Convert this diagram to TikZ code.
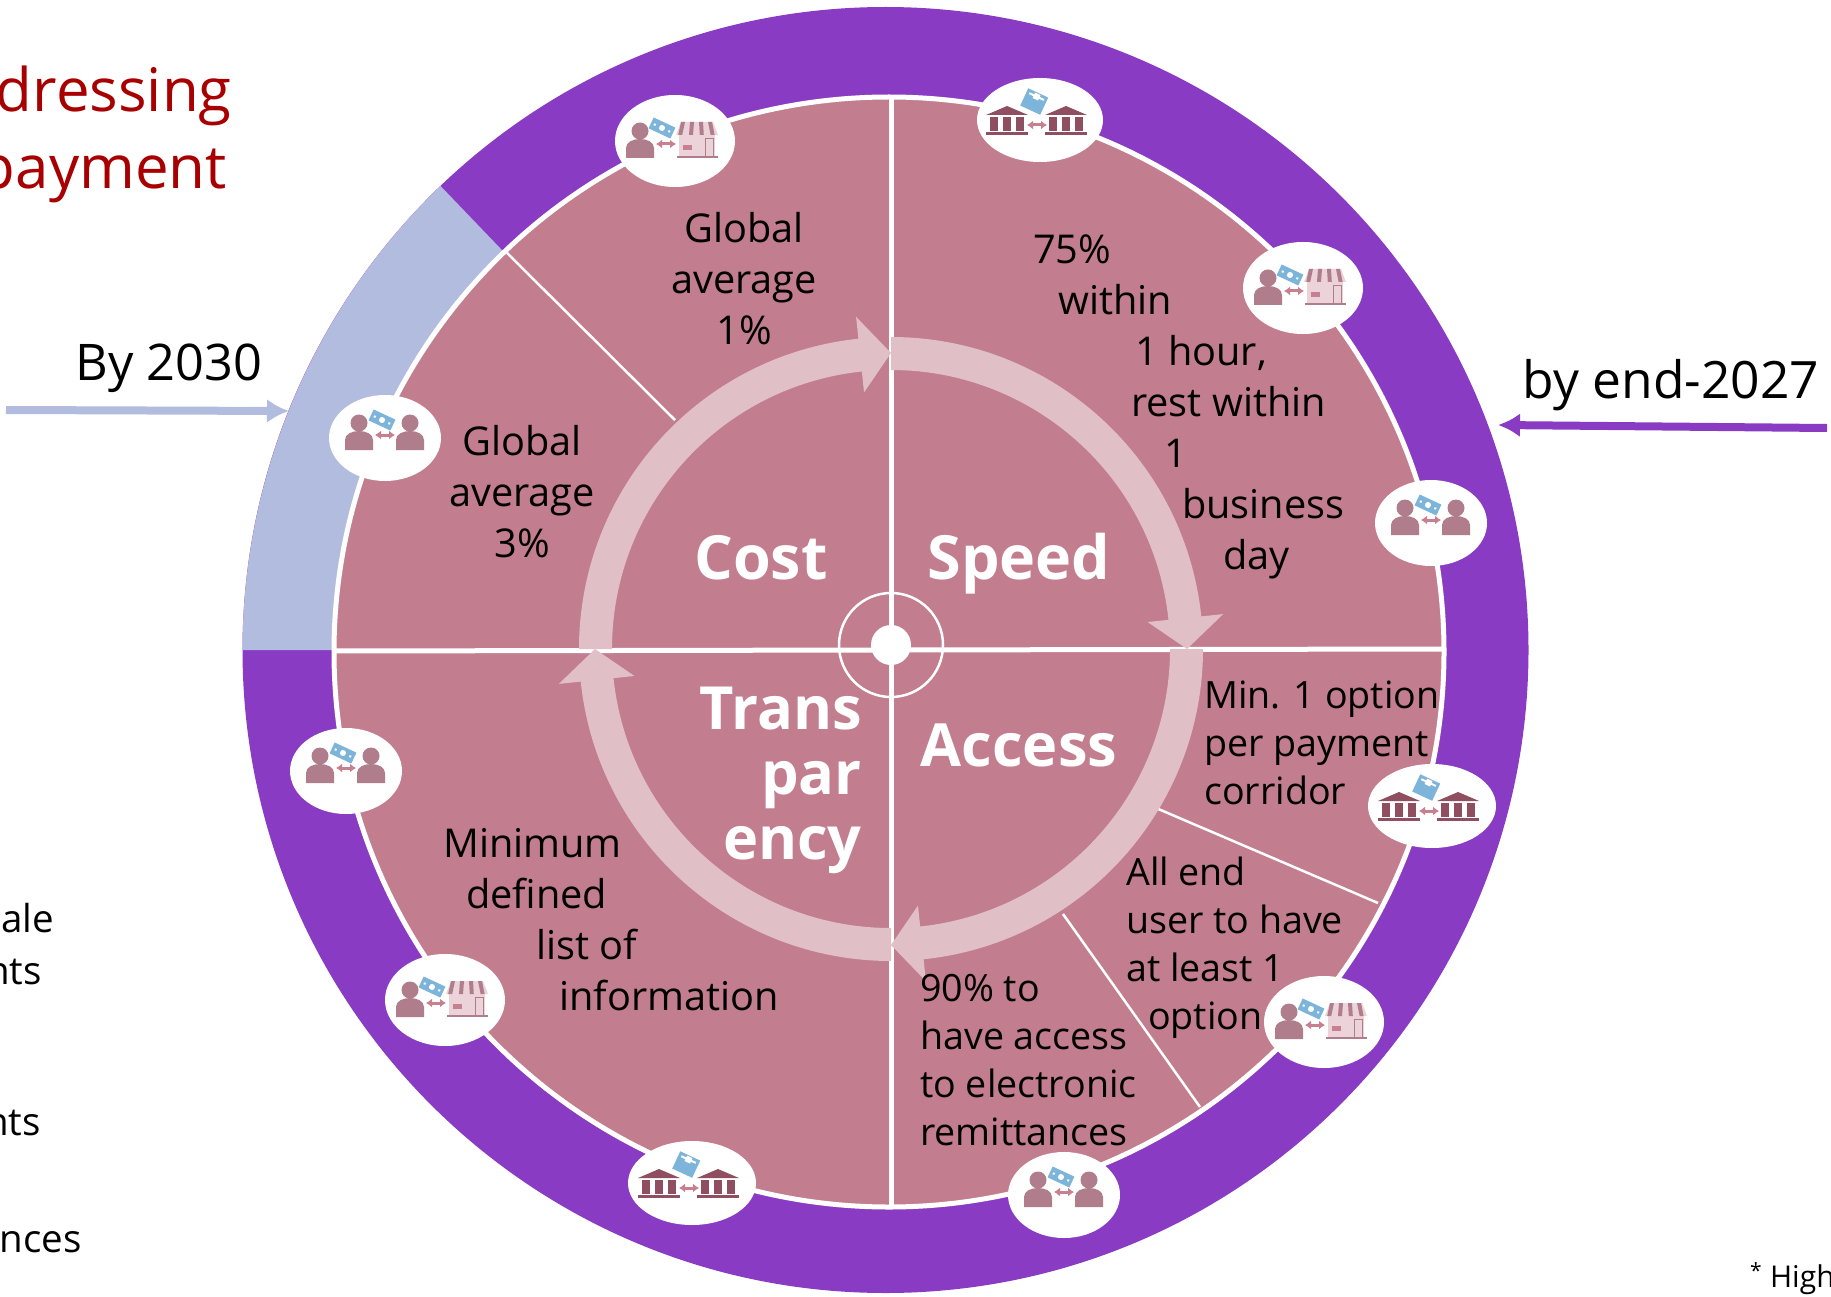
\documentclass[tikz,border=0pt]{standalone}
\usepackage{fontspec}
\setmainfont{Open Sans}
\usetikzlibrary{arrows.meta,shapes.geometric}
\definecolor{ringpurple}{HTML}{893BC3}
\definecolor{ringblue}{HTML}{B2BCDE}
\definecolor{piepink}{HTML}{C27D8E}
\definecolor{arrowpink}{HTML}{E0BFC6}
\definecolor{titlered}{HTML}{A80000}
\definecolor{iconperson}{HTML}{B07D8C}
\definecolor{iconbank}{HTML}{8F4F60}
\definecolor{iconarrow}{HTML}{C87F90}
\definecolor{iconmoney}{HTML}{7DB4DA}
\definecolor{iconshop}{HTML}{EBD3D9}
\newcommand{\arrowseg}[2]{%
  \fill[arrowpink] (#1:312) arc (#1:#2-6:312) -- (#2-6:334) -- (#2:296) -- (#2-6:258) -- (#2-6:279) arc (#2-6:#1:279) -- cycle;}
\newcommand{\glyphPerson}[2]{\begin{scope}[shift={(#1,#2)}]
  \fill[iconperson] (0,-15) circle (8.5);
  \fill[iconperson] (-14,12) -- (-14,2) .. controls (-14,-10) and (14,-10) .. (14,2) -- (14,12) -- cycle;
\end{scope}}
\newcommand{\glyphMoney}[2]{\begin{scope}[shift={(#1,#2)},rotate=25]
  \fill[iconmoney] (-12,-6) rectangle (12,6);
  \fill[white] (0,0) circle (3);
  \fill[white] (-9,-1) rectangle (-7,1);
  \fill[white] (7,-1) rectangle (9,1);
\end{scope}}
\newcommand{\glyphStack}[2]{\begin{scope}[shift={(#1,#2)},rotate=25]
  \fill[iconmoney] (-11,-10) rectangle (11,9);
  \fill[white] (-8,-7) rectangle (8,-5);
  \fill[white] (-3,-9) rectangle (3,-3);
\end{scope}}
\newcommand{\glyphTwoway}[2]{\draw[iconarrow,line width=3pt,{Latex[length=6pt,width=9pt]}-{Latex[length=6pt,width=9pt]}] (#1-10,#2) -- (#1+10,#2);}
\newcommand{\glyphBank}[2]{\begin{scope}[shift={(#1,#2)}]
  \fill[iconbank] (-21,-5) -- (0,-14) -- (21,-5) -- cycle;
  \foreach \px in {-17,-4,9} \fill[iconbank] (\px,-3) rectangle +(8,14);
  \fill[iconbank] (-21,12) rectangle (21,15);
\end{scope}}
\newcommand{\glyphShop}[2]{\begin{scope}[shift={(#1,#2)}]
  \fill[iconshop] (-18,-6) rectangle (18,15);
  \fill[iconperson] (-20,15) rectangle (21,17);
  \fill[iconshop] (-16,-19) -- (16,-19) -- (21,-6) -- (-21,-6) -- cycle;
  \foreach \px in {-14,-5,4,13} \fill[iconperson] (\px-2,-19) -- (\px+2,-19) -- (\px*1.2+2,-6) -- (\px*1.2-2,-6) -- cycle;
  \fill[iconarrow] (-14,4) rectangle (-5,9);
  \draw[iconperson,line width=.8pt] (8,-3) rectangle (16,15);
\end{scope}}
\newcommand{\iconPersonPair}[2]{\begin{scope}[shift={(#1,#2)}]
  \glyphPerson{-26}{0}\glyphPerson{25}{0}\glyphMoney{-3}{-18}\glyphTwoway{0}{-3}
\end{scope}}
\newcommand{\iconBankPair}[2]{\begin{scope}[shift={(#1,#2)}]
  \glyphBank{-33}{0}\glyphBank{26}{0}\glyphStack{-6}{-18}\glyphTwoway{-3}{5}
\end{scope}}
\newcommand{\iconPersonShop}[2]{\begin{scope}[shift={(#1,#2)}]
  \glyphPerson{-35}{5}\glyphShop{22}{0}\glyphMoney{-13}{-13}\glyphTwoway{-9}{3}
\end{scope}}
\tikzset{
  body/.style={font=\fontsize{39.7}{51}\selectfont,text=black,inner sep=0pt,align=left},
  bodyc/.style={body,align=center},
  small/.style={body,font=\fontsize{37.6}{48}\selectfont},
  headword/.style={font=\fontsize{61}{65}\bfseries\selectfont,text=white,inner sep=0pt,align=right},
  headwordb/.style={font=\fontsize{59.5}{65}\bfseries\selectfont,text=white,inner sep=0pt,align=right},
  heading/.style={font=\fontsize{60}{77}\selectfont,text=titlered,inner sep=0pt},
  datelabel/.style={font=\fontsize{50.5}{60}\selectfont,text=black,inner sep=0pt},
  sidetext/.style={font=\fontsize{38.5}{48}\selectfont,text=black,inner sep=0pt,anchor=east},
  badge/.style={ellipse,fill=white,inner sep=0pt},
  seam/.style={draw=white,line width=2.5pt},
  axis/.style={draw=white,line width=5pt}
}
\begin{document}
\begin{tikzpicture}[x=1pt,y=1pt,yscale=-1]
\useasboundingbox (0,0) rectangle (1831,1297);
\clip (0,0) rectangle (1831,1297);
% outer ring
\fill[ringpurple] (885.5,650) circle (643);
\begin{scope}[shift={(885.5,650)}]
  \fill[ringblue] (180:643) arc (180:226.2:643) -- (226.2:540) arc (226.2:180:540) -- cycle;
\end{scope}
% pie
\fill[piepink,draw=white,line width=5pt] (889,652) circle (555);
\coordinate (pieW) at (334,651); \coordinate (pieE) at (1444,649);
\coordinate (pieN) at (891,99);  \coordinate (pieS) at (891,1208);
\draw[axis] (pieW) -- (pieE);
\draw[axis] (pieN) -- (pieS);
\coordinate (a1) at (505,251); \coordinate (a2) at (675,420);
\coordinate (b1) at (1156,808); \coordinate (b2) at (1378,903);
\coordinate (c1) at (1063,914); \coordinate (c2) at (1200,1107);
\draw[seam] (a1) -- (a2);
\draw[seam] (b1) -- (b2);
\draw[seam] (c1) -- (c2);
% circular arrows
\begin{scope}[shift={(891,649)}]
  \arrowseg{180}{270}
  \arrowseg{270}{360}
  \arrowseg{0}{90}
  \arrowseg{90}{180}
\end{scope}
% hub
\draw[white,line width=2.5pt] (891,645) circle (52);
\fill[white] (891,645) circle (20);
% badges
\node[badge,minimum width=120pt,minimum height=92pt] (b1s) at (675,141) {};
\iconPersonShop{675}{141}
\node[badge,minimum width=126pt,minimum height=84pt] (b2b) at (1040,120) {};
\iconBankPair{1040}{120}
\node[badge,minimum width=120pt,minimum height=92pt] (b3s) at (1303,288) {};
\iconPersonShop{1303}{288}
\node[badge,minimum width=112pt,minimum height=86pt] (b4p) at (1431,523) {};
\iconPersonPair{1431}{523}
\node[badge,minimum width=128pt,minimum height=84pt] (b5b) at (1432,806) {};
\iconBankPair{1432}{806}
\node[badge,minimum width=120pt,minimum height=92pt] (b6s) at (1324,1022) {};
\iconPersonShop{1324}{1022}
\node[badge,minimum width=112pt,minimum height=86pt] (b7p) at (1064,1195) {};
\iconPersonPair{1064}{1195}
\node[badge,minimum width=128pt,minimum height=84pt] (b8b) at (692,1183) {};
\iconBankPair{692}{1183}
\node[badge,minimum width=120pt,minimum height=92pt] (b9s) at (445,1000) {};
\iconPersonShop{445}{1000}
\node[badge,minimum width=112pt,minimum height=86pt] (b10p) at (346,771) {};
\iconPersonPair{346}{771}
\node[badge,minimum width=112pt,minimum height=86pt] (b11p) at (385,438) {};
\iconPersonPair{385}{438}
% headwords
\node[headword] (cost) at (761,558) {Cost};
\node[headword] (speed) at (1019,564) {Speed};
\node[headwordb] (access) at (1019,745) {Access};
\node[headwordb,anchor=east] (trans) at (862,780) {Trans\\par\\ency};
% body text
\node[bodyc] (t1) at (744,279) {Global\\average\\1\%};
\node[bodyc] (t2) at (522,492) {Global\\average\\3\%};
\node[body,anchor=west] (t3) at (1033,407) {75\%\\\hspace*{25pt}within\\\hspace*{102pt}1 hour,\\\hspace*{98pt}rest within\\\hspace*{131pt}1\\\hspace*{149pt}business\\\hspace*{190pt}day};
\node[small,anchor=west] (t4) at (1204,743) {Min. 1 option\\per payment\\corridor};
\node[small,anchor=west] (t5) at (1126,948) {All end\\user to have\\at least 1\\\hspace*{22pt}option};
\node[small,anchor=west] (t6) at (920,1060) {90\% to\\have access\\to electronic\\remittances};
\node[body,anchor=west] (t7) at (443,920) {Minimum\\\hspace*{23pt}defined\\\hspace*{93pt}list of\\\hspace*{116pt}information};
% title and cropped side text
\node[heading,anchor=east] (h1) at (232,96) {dressing};
\node[heading,anchor=east] (h2) at (227,176) {payment};
\node[sidetext] (s1) at (54,918) {ale};
\node[sidetext] (s2) at (42,972) {nts};
\node[sidetext] (s3) at (41,1123) {nts};
\node[sidetext] (s4) at (82,1242) {nces};
\node[font=\fontsize{30}{34}\selectfont,inner sep=0pt,anchor=west] (foot) at (1750,1279) {\textsuperscript{*} High};
% date labels and arrows
\node[datelabel] (by30) at (169,368) {By 2030};
\node[datelabel,font=\fontsize{51.5}{60}\selectfont] (by27) at (1671,385) {by end-2027};
\coordinate (l1) at (6,410); \coordinate (l2) at (289,411);
\coordinate (r1) at (1827,428); \coordinate (r2) at (1498,425);
\draw[ringblue,line width=8pt,-{Latex[length=22pt,width=24pt]}] (l1) -- (l2);
\draw[ringpurple,line width=8pt,-{Latex[length=22pt,width=24pt]}] (r1) -- (r2);
\end{tikzpicture}
\end{document}
